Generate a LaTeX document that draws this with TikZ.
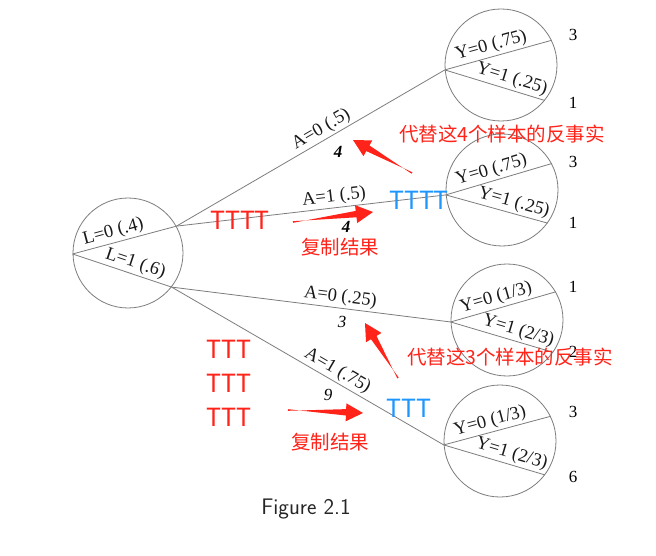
\documentclass[tikz,border=0pt]{standalone}
\usepackage{fontspec}
\setmainfont{Liberation Serif}
\newfontfamily\cjk{Noto Sans CJK SC}
\usetikzlibrary{calc}
\definecolor{arrred}{RGB}{255,35,25}
\definecolor{tblue}{RGB}{30,150,255}
\definecolor{treegray}{RGB}{125,125,125}
\newcommand\redarr[2]{%
  \path ($(#2)!17pt!(#1)$) coordinate (hb);
  \path ($(#1)!0pt!(#2)$) coordinate (tb);
  \fill[arrred] ($(tb)!0.8pt!90:(#2)$) -- ($(hb)!3.2pt!-90:(#2)$) -- ($(hb)!9pt!-90:(#2)$) -- (#2)
     -- ($(hb)!9pt!90:(#2)$) -- ($(hb)!3.2pt!90:(#2)$) -- ($(tb)!0.8pt!-90:(#2)$) -- cycle;}
\begin{document}
\begin{tikzpicture}[x=1pt,y=-1pt,
  ball/.style={circle, draw=treegray, line width=0.8pt, minimum size=112pt, inner sep=0pt},
  branch/.style={draw=treegray, line width=0.8pt},
  lab/.style={font=\fontsize{18.5}{18.5}\selectfont, text=black!90, sloped, above, inner sep=2pt},
  cnt/.style={font=\fontsize{17}{17}\selectfont\itshape, inner sep=0pt},
  num/.style={font=\fontsize{17}{17}\selectfont, inner sep=0pt},
  redtxt/.style={text=arrred, font=\cjk\fontsize{19.5}{20}\selectfont, inner sep=0pt},
  redt/.style={text=arrred, font=\cjk\fontsize{25}{25}\selectfont, inner sep=0pt},
  bluet/.style={text=tblue, font=\cjk\fontsize{25}{25}\selectfont, inner sep=0pt}]
\useasboundingbox[fill=white] (0,0) rectangle (656,556);

% circles
\node[ball, minimum size=110pt] (c0) at (128,253) {};
\node[ball] (c1) at (501,65) {};
\node[ball] (c2) at (502,190) {};
\node[ball] (c3) at (507,320) {};
\node[ball] (c4) at (500,441) {};

% L branches
\draw[branch] (c0.181) -- node[lab, pos=0.42] {L=0 (.4)} (c0.29);
\draw[branch] (c0.181) -- node[lab, pos=0.6] {L=1 (.6)} (c0.-38);

% A branches
\draw[branch] (c0.29) -- node[lab, pos=0.56] {A=0 (.5)} (c1.185);
\draw[branch] (c0.29) -- node[lab, pos=0.59] {A=1 (.5)} (c2.185);
\draw[branch] (c0.-38) -- node[lab, pos=0.6] {A=0 (.25)} (c3.182);
\draw[branch] (c0.-38) -- node[lab, pos=0.59] {A=1 (.75)} (c4.184);

% Y branches
\draw[branch] (c1.185) -- node[lab, pos=0.46] {Y=0 (.75)} (c1.26);
\draw[branch] (c1.185) -- node[lab, pos=0.64] {Y=1 (.25)} (c1.-39);
\draw[branch] (c2.185) -- node[lab, pos=0.46] {Y=0 (.75)} (c2.28.5);
\draw[branch] (c2.185) -- node[lab, pos=0.64] {Y=1 (.25)} (c2.-36);
\draw[branch] (c3.182) -- node[lab, pos=0.46] {Y=0 (1/3)} (c3.30);
\draw[branch] (c3.182) -- node[lab, pos=0.63] {Y=1 (2/3)} (c3.-35);
\draw[branch] (c4.184) -- node[lab, pos=0.46] {Y=0 (1/3)} (c4.26.5);
\draw[branch] (c4.184) -- node[lab, pos=0.64] {Y=1 (2/3)} (c4.-37);

% counts under A branches
\node[cnt, font=\fontsize{17}{17}\selectfont\itshape\bfseries] (n1) at (338,152) {4};
\node[cnt, font=\fontsize{17}{17}\selectfont\itshape\bfseries] (n2) at (346,227) {4};
\node[cnt] (n3) at (342,322) {3};
\node[cnt] (n4) at (328,395) {9};

% counts at right
\node[num] (r1a) at (573,35) {3};
\node[num] (r1b) at (573,103) {1};
\node[num] (r2a) at (573,162) {3};
\node[num] (r2b) at (573,223) {1};
\node[num] (r3a) at (573,287) {1};
\node[num] (r3b) at (573,352) {2};
\node[num] (r4a) at (573,412) {3};
\node[num] (r4b) at (573,477) {6};

% annotations
\node[redtxt] (t1) at (502,134) {代替这4个样本的反事实};
\node[redtxt] (t2) at (510,357) {代替这3个样本的反事实};
\node[redtxt] (f1) at (340,247) {复制结果};
\node[redtxt] (f2) at (330,442) {复制结果};
\node[redt] (rt1) at (240,220) {TTTT};
\node[redt] (rt2) at (229,349) {TTT};
\node[redt] (rt3) at (229,383) {TTT};
\node[redt] (rt4) at (229,417) {TTT};
\node[bluet] (bt1) at (419,200) {TTTT};
\node[bluet] (bt2) at (409,408) {TTT};

% red arrows
\coordinate (a1t) at (412,173); \coordinate (a1h) at (353,140);
\coordinate (a2t) at (293,222); \coordinate (a2h) at (373,212);
\coordinate (a3t) at (398,378); \coordinate (a3h) at (365,323);
\coordinate (a4t) at (288,410); \coordinate (a4h) at (363,413);
\redarr{a1t}{a1h}
\redarr{a2t}{a2h}
\redarr{a3t}{a3h}
\redarr{a4t}{a4h}

% caption
\node[font=\sffamily\fontsize{22.5}{22.5}\selectfont, text=black!85, inner sep=0pt] (cap) at (306,509) {Figure 2.1};
\end{tikzpicture}
\end{document}
